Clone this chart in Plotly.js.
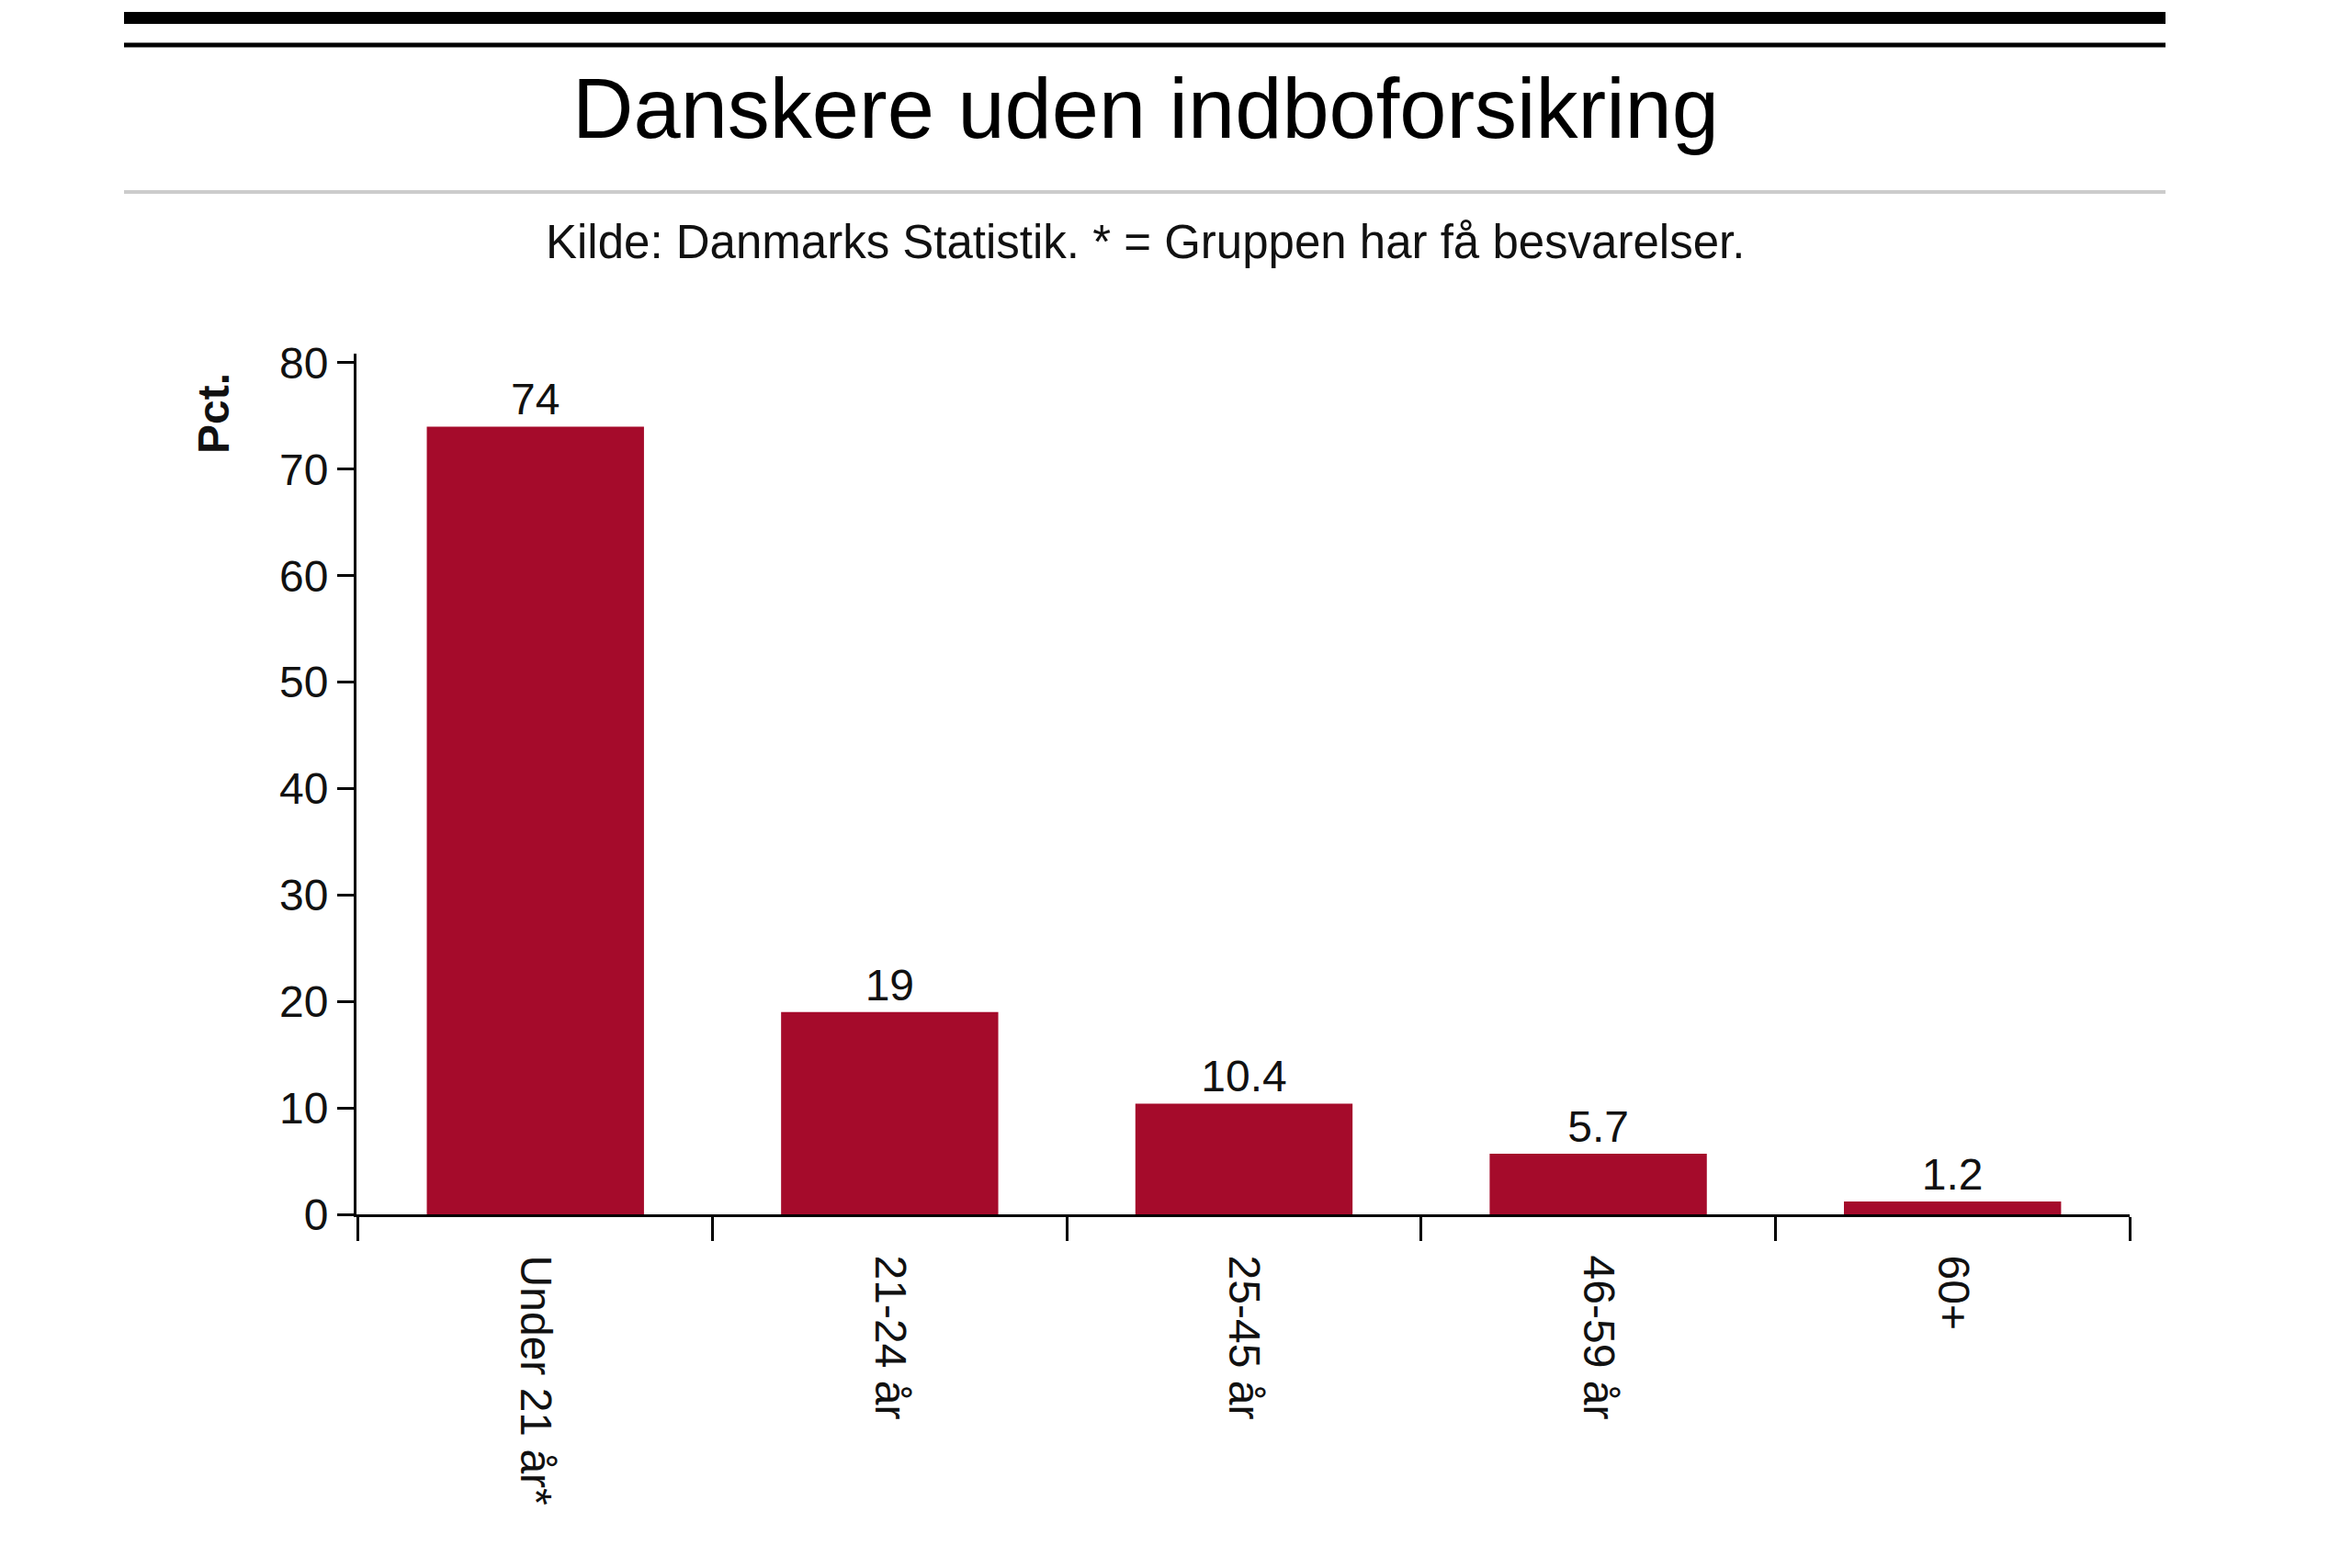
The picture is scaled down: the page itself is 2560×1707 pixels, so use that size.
<!DOCTYPE html>
<html>
<head>
<meta charset="utf-8">
<script src="https://cdn.plot.ly/plotly-3.0.1.min.js"></script>
<style>html,body{margin:0;padding:0;background:#fff;}#chart{width:2560px;height:1707px;}</style>
</head>
<body>
<div id="chart"></div>
<script>
const categories = ["Under 21 år*", "21-24 år", "25-45 år", "46-59 år", "60+"];
const values = [74, 19, 10.4, 5.7, 1.2];
const valueLabels = ["74", "19", "10.4", "5.7", "1.2"];
const yTickValues = [0, 10, 20, 30, 40, 50, 60, 70, 80];

const FONT = "Liberation Sans, Arial, Helvetica, sans-serif";
const BAR_COLOR = "#a50b2b";

// plot area geometry (pixels)
const L = 388, R = 2318, T = 385, B = 1322;
const PW = R - L, PH = B - T;
const px = x => (x - L) / PW;
const py = y => (B - y) / PH;

const trace = {
  type: "bar",
  x: categories,
  y: values,
  text: valueLabels,
  textposition: "outside",
  cliponaxis: false,
  textfont: {family: FONT, size: 48, color: "#111"},
  marker: {color: BAR_COLOR},
  hoverinfo: "x+y"
};

const layout = {
  width: 2560,
  height: 1707,
  paper_bgcolor: "#ffffff",
  plot_bgcolor: "#ffffff",
  margin: {l: L, r: 2560 - R, t: T, b: 1707 - B, pad: 0},
  bargap: 0.387,
  showlegend: false,
  font: {family: FONT, color: "#111"},
  title: {
    text: "Danskere uden indboforsikring",
    font: {family: FONT, size: 92, color: "#000"},
    x: 1247 / 2560, xref: "container", xanchor: "center",
    y: 1 - 117.5 / 1707, yref: "container", yanchor: "middle"
  },
  xaxis: {
    type: "category",
    range: [-0.505, 4.5],
    showline: true, linecolor: "#000", linewidth: 3,
    ticks: "outside", tickson: "boundaries", ticklen: 26, tickwidth: 3, tickcolor: "#000",
    tickangle: 90,
    ticklabelstandoff: 32,
    tickfont: {family: FONT, size: 48, color: "#111"},
    showgrid: false, zeroline: false
  },
  yaxis: {
    range: [0, 80.86],
    tickvals: yTickValues,
    showline: true, linecolor: "#000", linewidth: 3,
    ticks: "outside", ticklen: 18, tickwidth: 3, tickcolor: "#000",
    tickfont: {family: FONT, size: 48, color: "#111"},
    showgrid: false, zeroline: false
  },
  annotations: [
    {
      text: "Kilde: Danmarks Statistik. * = Gruppen har få besvarelser.",
      xref: "paper", yref: "paper",
      x: px(1246), y: py(264),
      xanchor: "center", yanchor: "middle",
      showarrow: false,
      font: {family: FONT, size: 51, color: "#111"}
    },
    {
      text: "<b>Pct.</b>",
      xref: "paper", yref: "paper",
      x: px(233), y: py(450),
      xanchor: "center", yanchor: "middle",
      textangle: -90,
      showarrow: false,
      font: {family: FONT, size: 48, color: "#111"}
    }
  ],
  shapes: [
    {type: "line", xref: "paper", yref: "paper",
     x0: px(135), x1: px(2357), y0: py(19.6), y1: py(19.6),
     line: {color: "#000", width: 13}},
    {type: "line", xref: "paper", yref: "paper",
     x0: px(135), x1: px(2357), y0: py(49), y1: py(49),
     line: {color: "#000", width: 5}},
    {type: "line", xref: "paper", yref: "paper",
     x0: px(135), x1: px(2357), y0: py(209), y1: py(209),
     line: {color: "#cccccc", width: 4}}
  ]
};

Plotly.newPlot("chart", [trace], layout, {displayModeBar: false, staticPlot: true});
</script>
</body>
</html>
